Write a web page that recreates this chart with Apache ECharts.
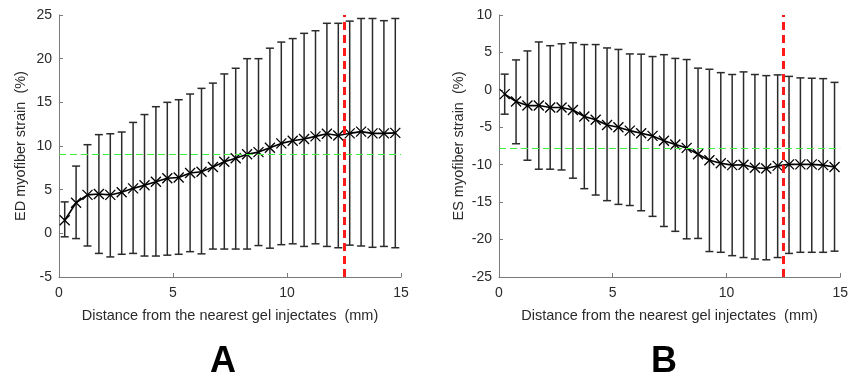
<!DOCTYPE html>
<html><head><meta charset="utf-8">
<script src="https://cdn.jsdelivr.net/npm/echarts@6/dist/echarts.min.js"></script>
<style>html,body{margin:0;padding:0;background:#fff}#c{width:851px;height:380px}</style>
</head><body><div id="c"></div>
<script>
// Distance (mm) of each sample
const distances = [0.25,0.75,1.25,1.75,2.25,2.75,3.25,3.75,4.25,4.75,5.25,5.75,6.25,6.75,7.25,7.75,8.25,8.75,9.25,9.75,10.25,10.75,11.25,11.75,12.25,12.75,13.25,13.75,14.25,14.75];

// Panel A: ED myofiber strain (%)
const edMean  = [1.5,3.5,4.4,4.5,4.4,4.7,5.15,5.5,5.9,6.3,6.4,6.9,7.05,7.6,8.2,8.6,9.05,9.3,9.8,10.3,10.6,10.8,11.1,11.4,11.2,11.45,11.65,11.45,11.45,11.5];
const edUpper = [3.6,7.7,10.15,11.3,11.4,11.6,12.7,13.6,14.5,15.0,15.3,15.95,16.6,17.2,18.25,18.9,20.0,20.0,21.2,21.9,22.3,22.9,23.2,24.05,24.05,24.3,24.6,24.6,24.35,24.6];
const edLower = [-0.4,-0.6,-1.45,-2.3,-2.7,-2.4,-2.3,-2.6,-2.6,-2.5,-2.4,-2.1,-2.35,-1.8,-1.8,-1.8,-1.8,-1.4,-1.7,-1.3,-1.2,-1.5,-1.2,-1.5,-1.65,-1.35,-1.45,-1.6,-1.5,-1.65];
const edRef = 9.08;

// Panel B: ES myofiber strain (%)
const esMean  = [-0.57,-1.55,-2.1,-2.1,-2.35,-2.35,-2.7,-3.55,-4.0,-4.7,-5.0,-5.45,-5.8,-6.15,-6.8,-7.3,-7.75,-8.6,-9.4,-9.8,-10.05,-10.0,-10.4,-10.5,-10.15,-9.95,-9.95,-9.95,-10.05,-10.3];
const esUpper = [2.1,4.0,5.2,6.4,5.9,6.15,6.3,6.05,6.05,5.6,5.4,4.8,4.77,4.45,4.7,4.2,4.05,2.9,2.75,2.3,2.05,2.4,2.05,1.9,2.0,1.8,1.6,1.55,1.5,1.0];
const esLower = [-3.25,-7.2,-9.4,-10.6,-10.6,-10.7,-11.8,-13.2,-14.05,-14.8,-15.3,-15.45,-16.15,-16.9,-18.25,-18.9,-19.9,-19.85,-21.6,-21.7,-22.15,-22.4,-22.6,-22.7,-22.4,-21.85,-21.7,-21.7,-21.7,-21.55];
const esRef = -7.8;

// Vertical marker (mm)
const markerX = 12.5;

// Axis settings
const xTicks = {min:0, max:15, interval:5};
const edAxis = {min:-5, max:25, interval:5};
const esAxis = {min:-25, max:10, interval:5};
const xTitle = 'Distance from the nearest gel injectates  (mm)';
const edTitle = 'ED myofiber strain  (%)';
const esTitle = 'ES myofiber strain  (%)';
const panelLabels = ['A','B'];

const FONT = '"Liberation Sans", Arial, sans-serif';
const axisColor = '#7a7a7a';
const textColor = '#2a2a2a';

function errData(lo, hi){ return distances.map((d,i)=>[d, lo[i], hi[i]]); }
function meanData(m){ return distances.map((d,i)=>[d, m[i]]); }

function renderErr(params, api){
  const x = api.value(0), lo = api.value(1), hi = api.value(2);
  const a = api.coord([x, lo]), b = api.coord([x, hi]);
  const w = 4;
  const st = {stroke:'#2b2b2b', lineWidth:1.5};
  return {type:'group', children:[
    {type:'line', shape:{x1:a[0],y1:a[1],x2:b[0],y2:b[1]}, style:st},
    {type:'line', shape:{x1:a[0]-w,y1:a[1],x2:a[0]+w,y2:a[1]}, style:st},
    {type:'line', shape:{x1:b[0]-w,y1:b[1],x2:b[0]+w,y2:b[1]}, style:st}
  ]};
}

function xAxisCfg(gi){
  return {type:'value', gridIndex:gi, min:xTicks.min, max:xTicks.max, interval:xTicks.interval,
    name:xTitle, nameLocation:'middle', nameGap:31,
    nameTextStyle:{fontFamily:FONT, fontSize:14.5, color:textColor},
    axisLine:{onZero:false, lineStyle:{color:axisColor, width:1}},
    axisTick:{inside:true, length:4, lineStyle:{color:axisColor}},
    axisLabel:{fontFamily:FONT, fontSize:14, color:textColor, margin:9},
    splitLine:{show:false}};
}
function yAxisCfg(gi, ax, title, gap){
  return {type:'value', gridIndex:gi, min:ax.min, max:ax.max, interval:ax.interval,
    name:title, nameLocation:'middle', nameGap:gap, nameRotate:90,
    nameTextStyle:{fontFamily:FONT, fontSize:14.5, color:textColor},
    axisLine:{show:true, onZero:false, lineStyle:{color:axisColor, width:1}},
    axisTick:{show:true, inside:true, length:4, lineStyle:{color:axisColor}},
    axisLabel:{fontFamily:FONT, fontSize:14, color:textColor, margin:7},
    splitLine:{show:false}};
}

function panelSeries(gi, mean, lo, hi, ref){
  return [
    {type:'line', xAxisIndex:gi, yAxisIndex:gi, data:[], silent:true, z:1,
      markLine:{silent:true, symbol:'none', label:{show:false},
        lineStyle:{color:'#40ee40', width:1, type:[7,4]},
        data:[[{coord:[xTicks.min, ref]},{coord:[xTicks.max, ref]}]]}},
    {type:'custom', xAxisIndex:gi, yAxisIndex:gi, renderItem:renderErr, data:errData(lo,hi),
      encode:{x:0, y:[1,2]}, z:2, silent:true},
    {type:'line', xAxisIndex:gi, yAxisIndex:gi, data:meanData(mean), z:3, silent:true,
      lineStyle:{color:'#000', width:1.6},
      symbol:'path://M0,0L10,10M10,0L0,10', symbolSize:10,
      itemStyle:{color:'none', borderColor:'#000', borderWidth:1.3}},
    {type:'line', xAxisIndex:gi, yAxisIndex:gi, data:[], silent:true, z:5,
      markLine:{silent:true, symbol:'none', label:{show:false},
        lineStyle:{color:'#ff1a1a', width:3, type:[8,5]},
        data:[[{coord:[markerX, gi===0?edAxis.min:esAxis.min]},{coord:[markerX, gi===0?edAxis.max:esAxis.max]}]]}}
  ];
}

const chart = echarts.init(document.getElementById('c'), null, {renderer:'canvas'});
chart.setOption({
  backgroundColor:'#fff',
  animation:false,
  grid:[
    {left:59, top:15, width:342, height:262},
    {left:499, top:15, width:342, height:262}
  ],
  xAxis:[xAxisCfg(0), xAxisCfg(1)],
  yAxis:[yAxisCfg(0, edAxis, edTitle, 31), yAxisCfg(1, esAxis, esTitle, 33)],
  series:[].concat(panelSeries(0, edMean, edLower, edUpper, edRef), panelSeries(1, esMean, esLower, esUpper, esRef)),
  graphic:[
    {type:'text', left:210, top:344, style:{text:panelLabels[0], font:'bold 36px "Liberation Sans", Arial, sans-serif', fill:'#000'}},
    {type:'text', left:651, top:344, style:{text:panelLabels[1], font:'bold 36px "Liberation Sans", Arial, sans-serif', fill:'#000'}}
  ]
});
</script></body></html>
